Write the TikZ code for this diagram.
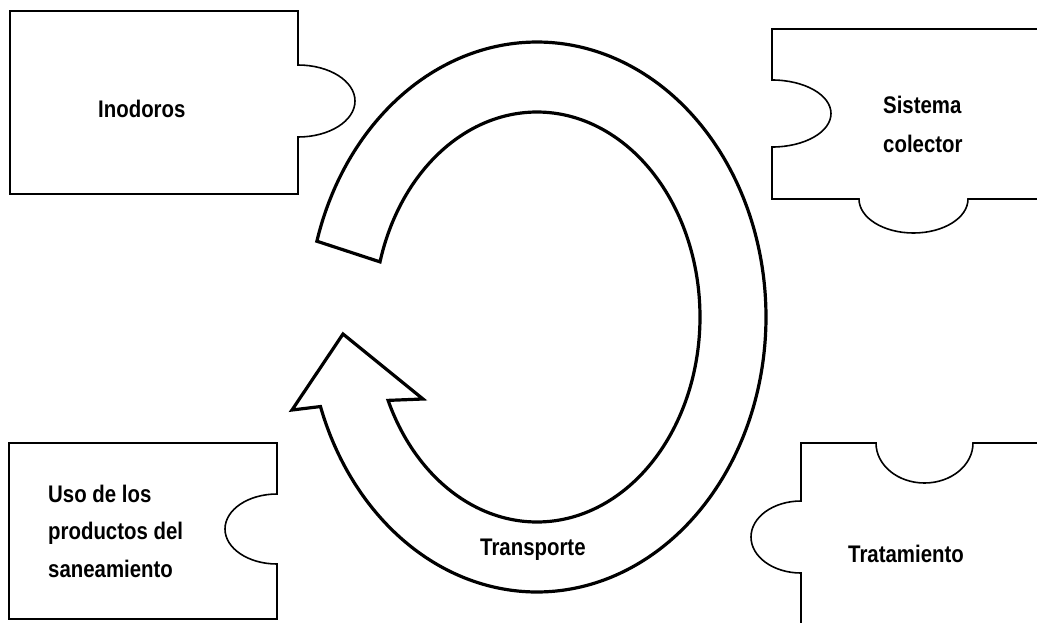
\documentclass[tikz,border=0pt]{standalone}
\usepackage{fontspec}
\setmainfont{Liberation Sans}
\newfontfamily\lblfont[FakeStretch=0.85]{Liberation Sans}
\begin{document}
\begin{tikzpicture}[x=1pt,y=-1pt,
  piece/.style={draw=black,line width=1.6pt,line join=miter,fill=white},
  bigarrow/.style={draw=black,line width=3.2pt,line join=miter,fill=white},
  lbl/.style={font=\lblfont\fontsize{24}{38}\selectfont\bfseries,inner sep=0pt,anchor=base west,align=left}]
\useasboundingbox (0,0) rectangle (1037,622);
\fill[white] (0,0) rectangle (1037,622);
\clip (0,0) rectangle (1037,622);
% Inodoros piece
\draw[piece] (10,11) -- (298,11) -- (298,65)
  arc[start angle=90,end angle=-90,x radius=57pt,y radius=36pt]
  -- (298,194) -- (10,194) -- cycle;
% Sistema colector piece
\draw[piece] (1045,29) -- (772,29) -- (772,80)
  arc[start angle=90,end angle=-90,x radius=59pt,y radius=33.5pt]
  -- (772,199) -- (859,199)
  arc[start angle=180,end angle=360,x radius=54.5pt,y radius=34pt]
  -- (1045,199);
% Uso piece
\draw[piece] (9,443) -- (277,443) -- (277,494)
  arc[start angle=90,end angle=270,x radius=52pt,y radius=35pt]
  -- (277,619) -- (9,619) -- cycle;
% Tratamiento piece
\draw[piece] (801,630) -- (801,573)
  arc[start angle=-90,end angle=-270,x radius=50pt,y radius=36pt]
  -- (801,443) -- (876,443)
  arc[start angle=180,end angle=360,x radius=48.5pt,y radius=40pt]
  -- (1045,443);
% circular arrow
\draw[bigarrow] plot[domain=196:521,samples=160,smooth] ({537+229*cos(\x)},{317+275*sin(\x)})
  -- (292,410) -- (343,334) -- (423,399)
  -- plot[domain=516:195.6,samples=160,smooth] ({537+163*cos(\x)},{317+205*sin(\x)})
  -- cycle;
% labels (base anchor = baseline of last line)
\node[lbl] (inodoros) at (98,117) {Inodoros};
\node[lbl,font=\lblfont\fontsize{24}{39}\selectfont\bfseries] (sistema) at (883,152) {Sistema\\colector};
\node[lbl,font=\lblfont\fontsize{24}{37.5}\selectfont\bfseries] (uso) at (48,577) {Uso de los\\productos del\\saneamiento};
\node[lbl] (tratamiento) at (848,562) {Tratamiento};
\node[lbl] (transporte) at (480,555) {Transporte};
\end{tikzpicture}
\end{document}
